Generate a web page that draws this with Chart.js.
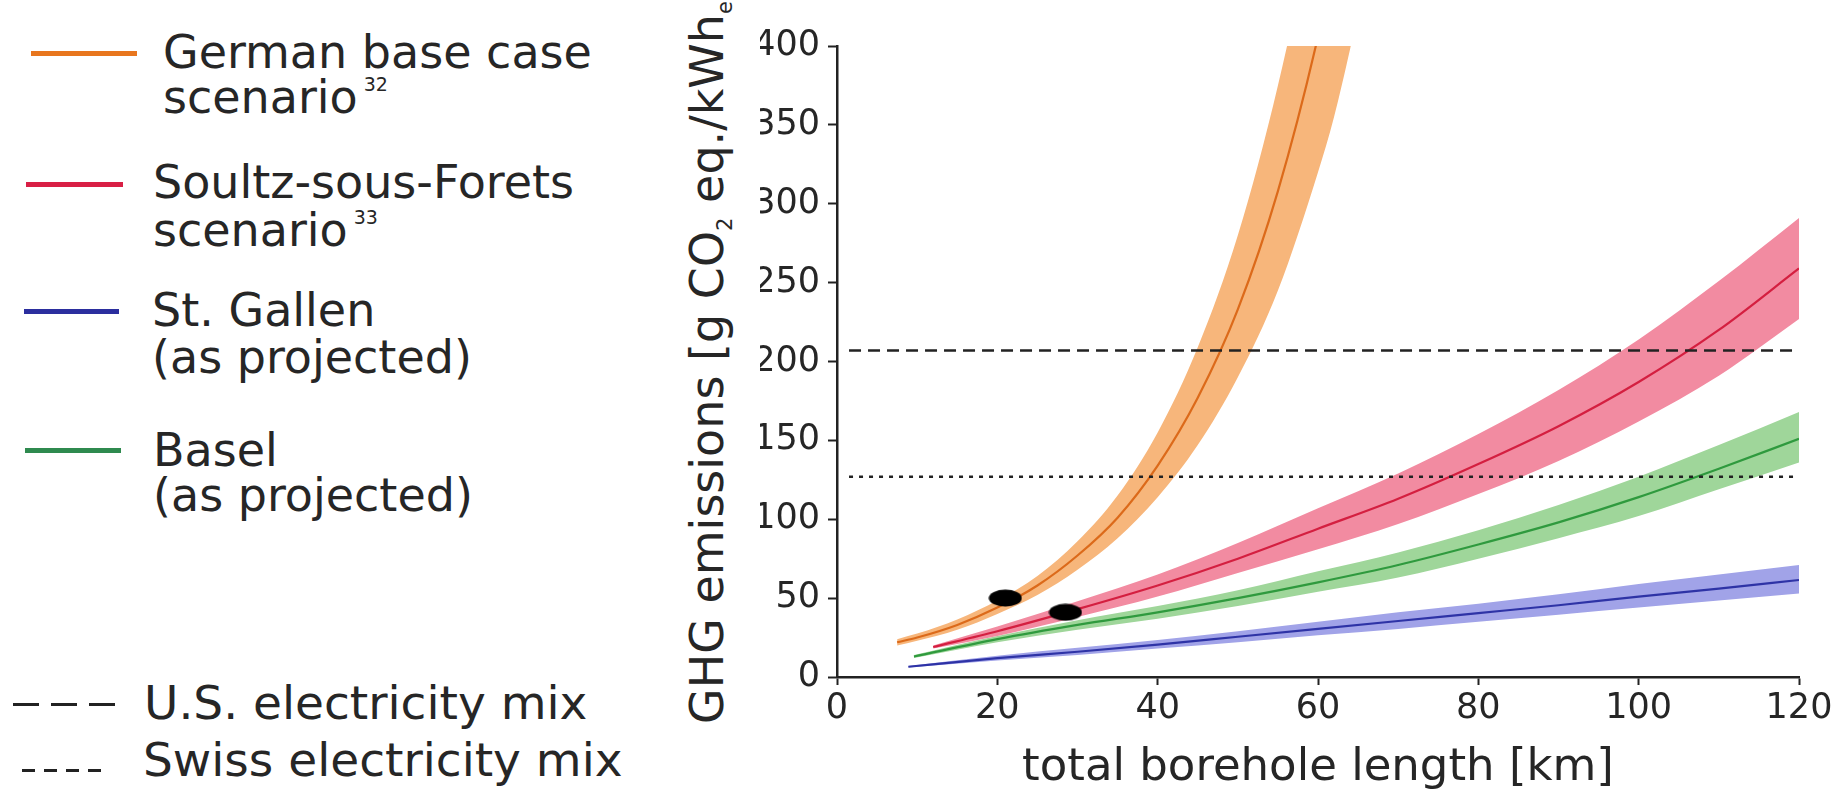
<!DOCTYPE html>
<html>
<head>
<meta charset="utf-8">
<title>GHG emissions vs borehole length</title>
<script src="https://cdn.jsdelivr.net/npm/chart.js@4/dist/chart.umd.min.js"></script>
<style>
  html, body { margin: 0; padding: 0; background: #fff; overflow: hidden; }
  body { width: 1841px; height: 798px; position: relative; font-family: "DejaVu Sans", sans-serif; color: #262626; }
  #wrap { position: absolute; left: 760px; top: 0; width: 1081px; height: 798px; }
  .lg { position: absolute; font-size: 46px; line-height: 46px; white-space: nowrap; }
  .lg.big { font-size: 47px; }
  .lg .ref { position: relative; top: -22px; font-size: 19px; margin-left: 6px; }
  .swatch { position: absolute; }
  #ytitle { position: absolute; left: 684px; top: 724px; transform-origin: 0 0; transform: rotate(-90deg);
            font-size: 46px; line-height: 46px; white-space: nowrap; }
  #ytitle .sub { position: relative; top: 9px; font-size: 21px; }
</style>
</head>
<body>
<div id="legend"></div>
<div id="ytitle">GHG emissions [g CO<span class="sub">2</span> eq./kWh<span class="sub">el.</span>]</div>
<div id="wrap"><canvas id="chart" width="1081" height="798"></canvas></div>
<script>
// values: km of total borehole length, g CO2 eq./kWh_el
const orangeKm = [7.5, 10, 15, 20, 25, 30, 35, 40, 45, 50, 55, 60, 62, 64, 66];
const orangeMid = [22, 25, 33, 44, 58, 77, 101, 134, 177, 233, 308, 406, 455, 510, 570];
const orangeHigh = [24, 27.5, 36.5, 48.5, 64, 86, 115, 155, 209, 280, 375, 495, 555, 620, 700];
const orangeLow = [20, 23, 30, 40, 52, 68, 88, 114, 147, 190, 245, 320, 355, 398, 445];

const redKm = [12, 20, 30, 40, 50, 60, 70, 80, 90, 100, 110, 120];
const redMid = [19, 29, 43, 58, 75, 94, 113, 135, 159, 187, 220, 259];
const redHigh = [20, 32, 48, 65, 85, 107, 129, 154, 182, 214, 251, 291];
const redLow = [18, 26, 38, 51, 66, 81, 97, 116, 137, 162, 191, 227];

const greenKm = [9.6, 20, 30, 40, 50, 60, 70, 80, 90, 100, 110, 120];
const greenMid = [13, 24, 33, 41, 50, 60, 71, 84, 98, 114, 132, 151];
const greenHigh = [14, 26, 36, 45, 55, 67, 79, 93, 109, 127, 147, 168];
const greenLow = [12, 22, 30, 37, 45, 54, 63, 75, 88, 102, 119, 136];

const blueKm = [8.9, 20, 30, 40, 50, 60, 70, 80, 90, 100, 110, 120];
const blueMid = [6.5, 12, 16, 20.5, 25.5, 30.5, 35.5, 40.5, 45.5, 51, 56, 61.5];
const blueHigh = [7, 13.5, 18.5, 23.5, 29, 35, 41, 46.5, 52.5, 59, 65, 71];
const blueLow = [6, 10.5, 14, 18, 22, 26.5, 30.5, 35, 39.5, 44, 48.5, 53];

const mixKm = [1.5, 120];
const usMix = 207;
const swissMix = 127;

const markerKm = [21, 28.5];
const markerVal = [50, 41];

const seriesNames = ['German base case', 'Soultz-sous-Forets', 'St. Gallen', 'Basel'];
const seriesNotes = ['scenario', 'scenario', '(as projected)', '(as projected)'];
const seriesRefs = ['32', '33', '', ''];
const mixNames = ['U.S. electricity mix', 'Swiss electricity mix'];

const lineColors = ['#dc6a1a', '#d41f40', '#2e33a6', '#2f9a3e'];
const bandColors = ['#f7b67b', '#f28ba1', '#a1a3e8', '#9fd69a'];
const legendColors = ['#e8761e', '#d81f45', '#2b2e9e', '#2f8a4f'];

const pts = (xs, ys) => xs.map((x, i) => ({ x, y: ys[i] }));

// legend, built as plain page text
const legend = document.getElementById('legend');
const swatchPos = [[31, 53, 106], [26, 184, 97], [24, 311, 95], [25, 450, 96]];
const textPos = [[163, 68, 113], [153, 198, 246], [152, 326, 373], [153, 466, 511]];

const addText = (text, left, baseline, ref, big) => {
  const el = document.createElement('div');
  el.className = big ? 'lg big' : 'lg';
  el.style.left = left + 'px';
  el.style.top = (baseline - 39) + 'px';
  el.textContent = text;
  if (ref) {
    const sup = document.createElement('span');
    sup.className = 'ref';
    sup.textContent = ref;
    el.appendChild(sup);
  }
  legend.appendChild(el);
};

const addSwatch = (left, cy, width, height, background) => {
  const el = document.createElement('div');
  el.className = 'swatch';
  el.style.left = left + 'px';
  el.style.top = (cy - height / 2) + 'px';
  el.style.width = width + 'px';
  el.style.height = height + 'px';
  el.style.background = background;
  legend.appendChild(el);
};

seriesNames.forEach((name, i) => {
  const [sx, sy, sw] = swatchPos[i];
  addSwatch(sx, sy, sw, 5, legendColors[i]);
  const [tx, b1, b2] = textPos[i];
  addText(name, tx, b1);
  addText(seriesNotes[i], tx, b2, seriesRefs[i]);
});

addSwatch(13, 704, 105, 3, 'repeating-linear-gradient(to right, #222 0 26px, transparent 26px 38px)');
addSwatch(22, 770, 84, 3, 'repeating-linear-gradient(to right, #222 0 13px, transparent 13px 22px)');
addText(mixNames[0], 144, 719, '', true);
addText(mixNames[1], 143, 776, '', true);

// black oval marks on the German and Soultz curves
const oval = document.createElement('canvas');
oval.width = 34;
oval.height = 18;
const oc = oval.getContext('2d');
oc.fillStyle = '#000';
oc.beginPath();
oc.ellipse(17, 9, 16.5, 8.5, 0, 0, Math.PI * 2);
oc.fill();

const bandPair = (km, high, low, color) => [
  {
    data: pts(km, high), fill: '+1', backgroundColor: color,
    borderColor: 'rgba(0,0,0,0)', borderWidth: 0, order: 3,
  },
  {
    data: pts(km, low), fill: false,
    borderColor: 'rgba(0,0,0,0)', borderWidth: 0, order: 3,
  },
];

const midLine = (km, mid, color) => ({
  data: pts(km, mid), fill: false, borderColor: color, borderWidth: 2.2, order: 2,
});

const mixLine = (value, dash) => ({
  data: pts(mixKm, mixKm.map(() => value)), fill: false,
  borderColor: '#222', borderWidth: 2.5, borderDash: dash, order: 1,
  cubicInterpolationMode: 'default', tension: 0,
});

const datasets = [
  ...bandPair(orangeKm, orangeHigh, orangeLow, bandColors[0]),
  ...bandPair(redKm, redHigh, redLow, bandColors[1]),
  ...bandPair(blueKm, blueHigh, blueLow, bandColors[2]),
  ...bandPair(greenKm, greenHigh, greenLow, bandColors[3]),
  midLine(orangeKm, orangeMid, lineColors[0]),
  midLine(redKm, redMid, lineColors[1]),
  midLine(blueKm, blueMid, lineColors[2]),
  midLine(greenKm, greenMid, lineColors[3]),
  mixLine(usMix, [12, 7]),
  mixLine(swissMix, [4, 6]),
  {
    data: pts(markerKm, markerVal), showLine: false, fill: false,
    pointStyle: oval, pointRadius: 10, order: 0,
  },
];

Chart.defaults.font.family = '"DejaVu Sans", sans-serif';
Chart.defaults.color = '#262626';

const axisLine = { display: true, color: '#222', width: 2.5 };

new Chart(document.getElementById('chart').getContext('2d'), {
  type: 'line',
  data: { datasets },
  options: {
    responsive: false,
    animation: false,
    layout: { padding: { left: 0, top: 46, right: 42, bottom: 0 } },
    plugins: { legend: { display: false }, tooltip: { enabled: false } },
    elements: {
      point: { radius: 0 },
      line: { cubicInterpolationMode: 'monotone' },
    },
    scales: {
      x: {
        type: 'linear',
        min: 0,
        max: 120,
        ticks: { stepSize: 20, font: { size: 35 }, padding: 3, maxRotation: 0, autoSkip: false },
        grid: { drawOnChartArea: false, tickLength: 8, tickWidth: 2, tickColor: '#222' },
        border: axisLine,
        title: { display: true, text: 'total borehole length [km]', font: { size: 45 }, padding: { top: 0, bottom: 3 } },
        afterFit: (scale) => { scale.height = 121; },
      },
      y: {
        min: 0,
        max: 400,
        ticks: { stepSize: 50, font: { size: 35 }, padding: 8, autoSkip: false },
        grid: { drawOnChartArea: false, tickLength: 9, tickWidth: 2, tickColor: '#222' },
        border: axisLine,
        afterFit: (scale) => { scale.width = 77; },
      },
    },
  },
});
</script>
</body>
</html>
